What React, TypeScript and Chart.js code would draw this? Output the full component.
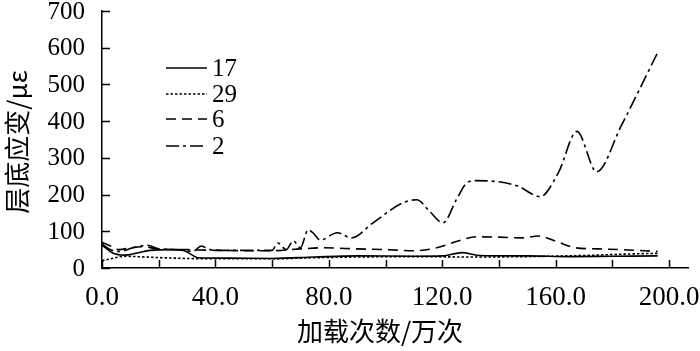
import React, { useEffect, useRef } from "react";
import { Chart, registerables } from "chart.js";

Chart.register(...registerables);

const seriesNames = ["17", "29", "6", "2"];

const s17x = [0, 4, 8, 12, 17, 24, 29, 34, 45, 60, 75, 90, 110, 120, 127, 133, 150, 165, 180, 196];
const s17y = [62, 40, 35, 40, 48, 50, 47, 28, 27, 26, 30, 33, 32, 33, 42, 34, 33, 31, 32, 33];

const s29x = [0, 3, 8, 15, 25, 40, 60, 75, 90, 110, 130, 150, 170, 185, 196];
const s29y = [20, 25, 32, 30, 27, 25, 25, 28, 30, 31, 30, 31, 34, 38, 40];

const s6x = [0, 3, 6, 10, 14, 20, 30, 40, 60, 70, 78, 90, 100, 110, 118, 125, 132, 140, 148, 154, 161, 167, 175, 183, 196];
const s6y = [70, 60, 50, 55, 58, 52, 50, 48, 47, 52, 55, 52, 50, 47, 55, 72, 85, 84, 82, 87, 70, 55, 52, 50, 45];

const s2x = [0, 3, 6, 11, 16, 20, 27, 32, 35, 38, 45, 60, 62, 65, 67.5, 70, 72.7, 74.5, 77, 83, 88, 95.6, 106, 111, 115.7, 120.3, 125, 128.7, 132, 147, 152, 154.5, 161, 167.5, 174.5, 183, 196];
const s2y = [65, 50, 45, 55, 62, 52, 50, 45, 60, 50, 48, 48, 68, 50, 74, 55, 104, 95, 76, 96, 82, 123, 177, 186, 153, 123, 186, 232, 238, 222, 200, 194, 260, 372, 262, 385, 587];

const xTicks = [0, 20, 40, 60, 80, 100, 120, 140, 160, 180, 200];
const xLabelTicks = [0, 40, 80, 120, 160, 200];
const yTicks = [0, 100, 200, 300, 400, 500, 600, 700];

const xTitle = "加载次数/万次";
const yTitle = "层底应变/με";

const dashes: number[][] = [[], [2.5, 2], [10, 6], [13, 4, 3, 4]];

const toPts = (xs: number[], ys: number[]) => xs.map((x, i) => ({ x, y: ys[i] }));

const SERIF = "Liberation Serif, Times New Roman, Times, serif";
const CJK = "Noto Sans CJK SC, sans-serif";

const decorPlugin = {
  id: "decor",
  afterDraw(chart: any) {
    const ctx = chart.ctx;
    const xs = chart.scales.x;
    const ys = chart.scales.y;
    const ca = chart.chartArea;
    ctx.save();
    ctx.strokeStyle = "#000";
    ctx.fillStyle = "#000";
    ctx.lineWidth = 1.5;
    ctx.beginPath();
    xTicks.forEach((v) => {
      const px = Math.round(xs.getPixelForValue(v)) + 0.5;
      ctx.moveTo(px, ca.bottom);
      ctx.lineTo(px, ca.bottom - 8);
    });
    yTicks.forEach((v) => {
      const py = Math.round(ys.getPixelForValue(v)) + 0.5;
      ctx.moveTo(ca.left, py);
      ctx.lineTo(ca.left + 8, py);
    });
    ctx.stroke();

    // tick labels
    ctx.textBaseline = "middle";
    ctx.font = "25px " + SERIF;
    ctx.textAlign = "right";
    yTicks.forEach((v) => {
      ctx.fillText(String(v), ca.left - 17, ys.getPixelForValue(v) + 1);
    });
    ctx.font = "27px " + SERIF;
    ctx.textAlign = "center";
    xLabelTicks.forEach((v) => {
      ctx.fillText(v.toFixed(1), xs.getPixelForValue(v), 298);
    });

    // legend
    const rows = [68, 94, 119, 146];
    ctx.font = "25px " + SERIF;
    ctx.textAlign = "left";
    seriesNames.forEach((name, i) => {
      ctx.beginPath();
      ctx.lineWidth = 1.6;
      ctx.setLineDash(dashes[i]);
      ctx.moveTo(166, rows[i]);
      ctx.lineTo(207, rows[i]);
      ctx.stroke();
      ctx.setLineDash([]);
      ctx.fillText(name, 212, rows[i] + 1);
    });

    // axis titles
    ctx.font = "26px " + CJK;
    ctx.textAlign = "center";
    ctx.fillText(xTitle, 380, 331);
    ctx.translate(17, 142);
    ctx.rotate(-Math.PI / 2);
    ctx.fillText(yTitle, 0, 0);
    ctx.restore();
  },
};

export default function App() {
  const ref = useRef<HTMLCanvasElement>(null);
  useEffect(() => {
    let chart: Chart | null = null;
    let cancelled = false;
    const build = () => {
      if (cancelled || !ref.current) return;
      const data = [toPts(s17x, s17y), toPts(s29x, s29y), toPts(s6x, s6y), toPts(s2x, s2y)];
      chart = new Chart(ref.current, {
        type: "line",
        data: {
          datasets: seriesNames.map((name, i) => ({
            label: name,
            data: data[i],
            borderColor: "#000",
            borderWidth: 1.6,
            borderDash: dashes[i],
            pointRadius: 0,
            fill: false,
            cubicInterpolationMode: "monotone" as const,
          })),
        },
        options: {
          responsive: false,
          animation: false,
          layout: { padding: { left: 0, right: 12, top: 11, bottom: 0 } },
          plugins: { legend: { display: false }, tooltip: { enabled: false } },
          scales: {
            x: {
              type: "linear",
              min: 0,
              max: 206.7,
              afterBuildTicks: (s: any) => {
                s.ticks = xTicks.map((v) => ({ value: v }));
              },
              afterFit: (s: any) => {
                s.height = 83;
              },
              ticks: { display: false },
              grid: { display: false, drawTicks: false },
              border: { display: true, color: "#000", width: 1.5 },
            },
            y: {
              type: "linear",
              min: 0,
              max: 700,
              afterBuildTicks: (s: any) => {
                s.ticks = yTicks.map((v) => ({ value: v }));
              },
              afterFit: (s: any) => {
                s.width = 102;
              },
              ticks: { display: false },
              grid: { display: false, drawTicks: false },
              border: { display: true, color: "#000", width: 1.5 },
            },
          },
        },
        plugins: [decorPlugin],
      });
    };
    const fonts: any = (document as any).fonts;
    if (fonts && fonts.load) {
      Promise.all([
        fonts.load("25px 'Liberation Serif'"),
        fonts.load("26px 'Noto Sans CJK SC'", xTitle + yTitle),
      ])
        .catch(() => null)
        .then(build);
    } else {
      build();
    }
    return () => {
      cancelled = true;
      if (chart) chart.destroy();
    };
  }, []);
  return (
    <div style={{ position: "fixed", left: 0, top: 0, width: 700, height: 351, background: "#fff" }}>
      <canvas ref={ref} width={700} height={351} style={{ width: 700, height: 351 }} />
    </div>
  );
}
